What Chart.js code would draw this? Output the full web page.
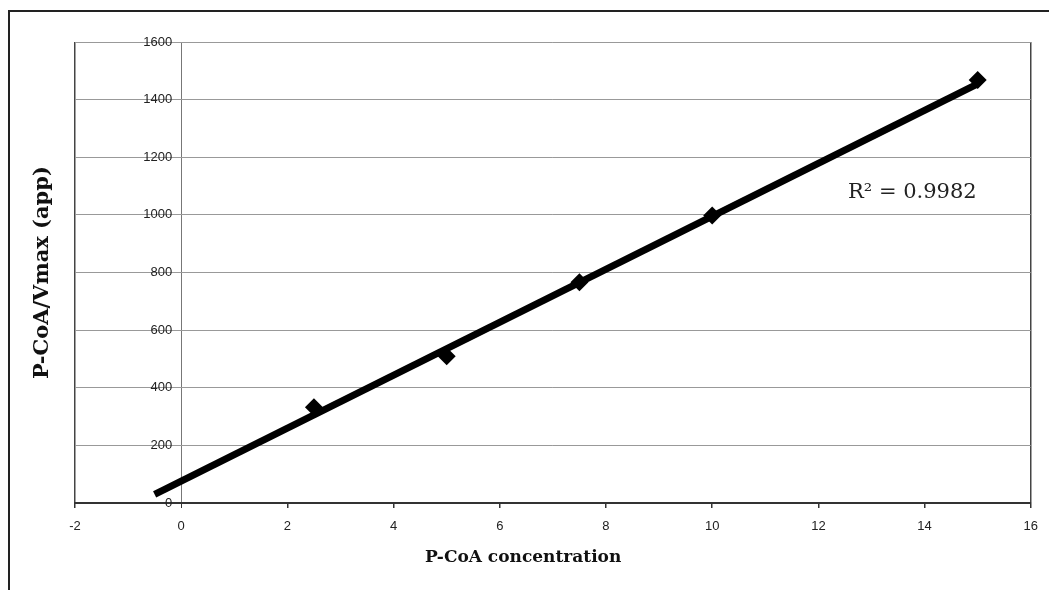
<!DOCTYPE html>
<html>
<head>
<meta charset="utf-8">
<script src="https://cdn.jsdelivr.net/npm/chart.js@4"></script>
<style>
  body { margin: 0; background: #fff; overflow: hidden; }
  #wrap { position: relative; width: 1049px; height: 590px; }
  #frame {
    position: absolute; left: 8px; top: 10px; width: 1100px; height: 600px;
    border-left: 2px solid #222; border-top: 2px solid #222;
    pointer-events: none;
  }
</style>
</head>
<body>
<div id="wrap">
  <canvas id="chart" width="1049" height="590"></canvas>
  <div id="frame"></div>
</div>
<script>
// measured points
const xValues = [2.5, 5, 7.5, 10, 15];
const yValues = [332, 509, 766, 998, 1468];

// linear trendline ends
const trendX = [-0.5, 15];
const trendY = [30, 1455];

const rSquaredText = 'R\u00b2 = 0.9982';
const labelAt = { x: 13.77, y: 1077 };

const ctx = document.getElementById('chart').getContext('2d');

// draws the R² label inside the plot area
const r2Label = {
    id: 'r2Label',
    afterDatasetsDraw(chart) {
        const c = chart.ctx;
        const px = chart.scales.x.getPixelForValue(labelAt.x);
        const py = chart.scales.y.getPixelForValue(labelAt.y);
        c.save();
        c.font = '21px "DejaVu Serif"';
        c.fillStyle = '#222';
        c.textAlign = 'center';
        c.textBaseline = 'middle';
        c.fillText(rSquaredText, px, py);
        c.restore();
    }
};

const plain = (v) => String(v);

// vertical lines: plot edges dark, the x = 0 axis grey, nothing else
function xGridColor(c) {
    if (!c.tick) return 'rgba(0,0,0,0)';
    if (c.tick.value === -2 || c.tick.value === 16) return '#444';
    if (c.tick.value === 0) return '#777';
    return 'rgba(0,0,0,0)';
}

new Chart(ctx, {
    type: 'scatter',
    data: {
        datasets: [{
            label: 'points',
            data: xValues.map((x, i) => ({ x: x, y: yValues[i] })),
            pointStyle: 'rectRot',
            pointRadius: 9,
            pointHoverRadius: 9,
            backgroundColor: '#000',
            borderColor: '#000',
            borderWidth: 0,
            order: 1
        }, {
            label: 'trend',
            data: trendX.map((x, i) => ({ x: x, y: trendY[i] })),
            showLine: true,
            borderColor: '#000',
            borderWidth: 7,
            pointRadius: 0,
            order: 2
        }]
    },
    options: {
        responsive: false,
        animation: false,
        layout: { padding: { left: 0, top: 42, right: 17, bottom: 0 } },
        plugins: {
            legend: { display: false },
            tooltip: { enabled: false }
        },
        scales: {
            x: {
                type: 'linear',
                min: -2,
                max: 16,
                ticks: {
                    stepSize: 2,
                    padding: 11,
                    color: '#222',
                    callback: plain,
                    font: { family: 'Liberation Sans', size: 13 }
                },
                grid: {
                    color: xGridColor,
                    lineWidth: (c) => (c.tick && c.tick.value === 0) ? 1 : 1.5,
                    tickColor: '#333',
                    tickLength: 5
                },
                border: { color: '#333', width: 2 },
                title: {
                    display: true,
                    // trailing em spaces nudge the centred title left, as in the original
                    text: 'P-CoA concentration\u2003\u2003\u2003\u2002',
                    color: '#111',
                    font: { family: 'DejaVu Serif', size: 17, weight: 'bold' },
                    padding: { top: 3, bottom: 22 }
                },
                afterFit: (scale) => { scale.height = 87; }
            },
            y: {
                type: 'linear',
                // labels sit just left of the x = 0 line
                position: { x: -0.17 },
                min: 0,
                max: 1600,
                ticks: {
                    stepSize: 200,
                    color: '#222',
                    callback: plain,
                    font: { family: 'Liberation Sans', size: 13 }
                },
                grid: {
                    color: '#999',
                    lineWidth: 1,
                    drawTicks: false
                },
                border: { display: false }
            },
            yTitle: {
                type: 'linear',
                position: 'left',
                min: 0,
                max: 1600,
                ticks: { display: false },
                grid: { display: false },
                border: { display: false },
                title: {
                    display: true,
                    text: 'P-CoA/Vmax (app)',
                    color: '#111',
                    font: { family: 'DejaVu Serif', size: 21, weight: 'bold' },
                    padding: { top: 30, bottom: 0 }
                },
                afterFit: (scale) => { scale.width = 75; }
            }
        }
    },
    plugins: [r2Label]
});
</script>
</body>
</html>
